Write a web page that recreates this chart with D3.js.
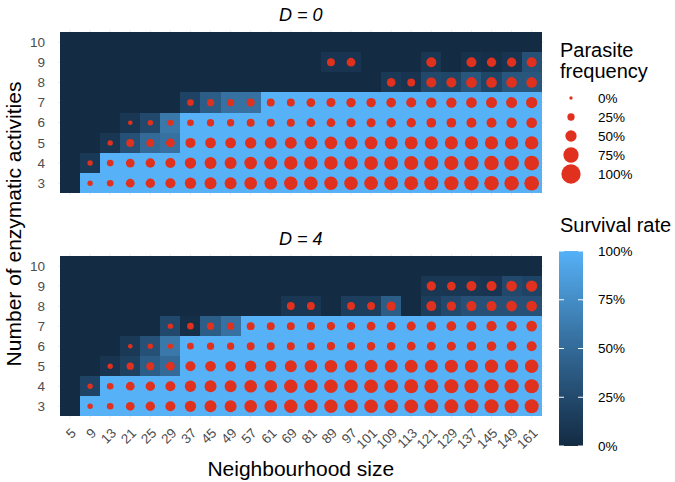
<!DOCTYPE html>
<html>
<head>
<meta charset="utf-8">
<script src="https://cdn.jsdelivr.net/npm/d3@7"></script>
<style>
  body { margin: 0; background: #fff; }
  text { font-family: "Liberation Sans", Arial, sans-serif; }
</style>
</head>
<body>
<svg id="chart" width="675" height="482"></svg>
<script>
// x categories and y categories
var neighbourhood = [5, 9, 13, 21, 25, 29, 37, 45, 49, 57, 61, 69, 81, 89, 97, 101, 109, 113, 121, 129, 137, 145, 149, 161];
var activities = [3, 4, 5, 6, 7, 8, 9, 10];
var panelTitles = ["D = 0", "D = 4"];
var sizeBreaks = [0, 25, 50, 75, 100];
var colorBreaks = [0, 25, 50, 75, 100];

// survival rate (%) - one row per number of activities (3 .. 10)
var survivalD0 = [
  [0,100,100,100,100,100,100,100,100,100,100,100,100,100,100,100,100,100,100,100,100,100,100,100],
  [0,12,100,100,100,100,100,100,100,100,100,100,100,100,100,100,100,100,100,100,100,100,100,100],
  [0,0,10,30,50,55,100,100,100,100,100,100,100,100,100,100,100,100,100,100,100,100,100,100],
  [0,0,0,10,25,60,100,100,100,100,100,100,100,100,100,100,100,100,100,100,100,100,100,100],
  [0,0,0,0,0,0,20,40,55,55,100,100,100,100,100,100,100,100,100,100,100,100,100,100],
  [0,0,0,0,0,0,0,0,0,0,0,0,0,0,0,0,12,8,25,22,35,22,35,35],
  [0,0,0,0,0,0,0,0,0,0,0,0,0,8,8,0,0,0,10,0,6,3,8,30],
  [0,0,0,0,0,0,0,0,0,0,0,0,0,0,0,0,0,0,0,0,0,0,0,0]
];
// parasite frequency (%) - null where no point
var parasiteD0 = [
  [null,13,21,34,38,42,50,54,54,58,58,63,63,63,64,65,66,66,67,68,69,70,70,71],
  [null,13,21,34,38,42,50,54,54,58,60,63,63,64,64,65,66,67,68,68,69,70,71,71],
  [null,null,13,29,29,34,42,46,46,50,54,54,58,58,59,59,60,60,61,61,62,62,63,63],
  [null,null,null,8,13,17,21,25,25,29,29,29,34,34,36,36,38,38,40,40,42,42,44,46],
  [null,null,null,null,null,null,21,25,25,29,29,29,34,36,38,38,40,42,44,44,46,48,48,50],
  [null,null,null,null,null,null,null,null,null,null,null,null,null,null,null,null,34,29,42,42,46,46,46,46],
  [null,null,null,null,null,null,null,null,null,null,null,null,null,29,34,null,null,null,42,null,42,38,38,42],
  [null,null,null,null,null,null,null,null,null,null,null,null,null,null,null,null,null,null,null,null,null,null,null,null]
];

var survivalD4 = [
  [0,100,100,100,100,100,100,100,100,100,100,100,100,100,100,100,100,100,100,100,100,100,100,100],
  [0,20,100,100,100,100,100,100,100,100,100,100,100,100,100,100,100,100,100,100,100,100,100,100],
  [0,0,8,18,40,50,100,100,100,100,100,100,100,100,100,100,100,100,100,100,100,100,100,100],
  [0,0,0,12,30,60,100,100,100,100,100,100,100,100,100,100,100,100,100,100,100,100,100,100],
  [0,0,0,0,0,25,3,40,55,100,100,100,100,100,100,100,100,100,100,100,100,100,100,100],
  [0,0,0,0,0,0,0,0,0,0,0,10,10,0,15,15,40,0,15,25,30,30,30,30],
  [0,0,0,0,0,0,0,0,0,0,0,0,0,0,0,0,0,0,10,10,10,8,25,20],
  [0,0,0,0,0,0,0,0,0,0,0,0,0,0,0,0,0,0,0,0,0,0,0,0]
];
var parasiteD4 = [
  [null,13,21,34,38,42,50,54,54,58,58,63,63,63,64,64,65,65,66,66,67,67,67,67],
  [null,13,21,34,38,42,50,54,54,58,58,63,63,64,64,65,65,66,66,67,67,68,68,68],
  [null,null,13,25,29,34,42,46,46,50,50,54,58,58,58,59,59,60,60,61,61,62,62,63],
  [null,null,null,8,13,13,21,25,25,29,29,29,29,30,31,32,33,34,35,36,38,39,40,42],
  [null,null,null,null,null,13,21,25,25,29,29,29,30,31,32,34,35,36,38,40,41,43,44,46],
  [null,null,null,null,null,null,null,null,null,null,null,29,29,null,29,29,38,null,42,38,42,42,46,46],
  [null,null,null,null,null,null,null,null,null,null,null,null,null,null,null,null,null,null,38,34,42,42,46,50],
  [null,null,null,null,null,null,null,null,null,null,null,null,null,null,null,null,null,null,null,null,null,null,null,null]
];

var svg = d3.select("#chart");

var lowCol = "#132B43", highCol = "#56B1F7", dotCol = "#E0301E";
var fill = d3.scaleLinear().domain([0, 100]).range([lowCol, highCol]).interpolate(d3.interpolateLab);
var radius = d3.scaleLinear().domain([0, 100]).range([1.65, 9.65]);

var x = d3.scaleBand().domain(neighbourhood).range([60, 541.7]).padding(0);

var panels = [
  {title: panelTitles[0], top: 32, bottom: 193.3, surv: survivalD0, para: parasiteD0},
  {title: panelTitles[1], top: 256, bottom: 416.3, surv: survivalD4, para: parasiteD4}
];

panels.forEach(function(p) {
  var y = d3.scaleBand().domain(activities.slice().reverse()).range([p.top, p.bottom]).padding(0);
  var g = svg.append("g");

  // grid peeking out round the tiles
  g.selectAll(".vg").data(neighbourhood).enter().append("line")
    .attr("x1", function(d) { return x(d) + x.bandwidth() / 2; })
    .attr("x2", function(d) { return x(d) + x.bandwidth() / 2; })
    .attr("y1", p.top - 2).attr("y2", p.bottom + 2)
    .attr("stroke", "#EBEBEB").attr("stroke-width", 1);
  g.selectAll(".hg").data(activities).enter().append("line")
    .attr("y1", function(d) { return y(d) + y.bandwidth() / 2; })
    .attr("y2", function(d) { return y(d) + y.bandwidth() / 2; })
    .attr("x1", 58).attr("x2", 543.7)
    .attr("stroke", "#EBEBEB").attr("stroke-width", 1);

  var cells = [];
  activities.forEach(function(a, i) {
    neighbourhood.forEach(function(n, j) {
      cells.push({n: n, a: a, s: p.surv[i][j], f: p.para[i][j]});
    });
  });

  g.selectAll("rect.tile").data(cells).enter().append("rect")
    .attr("class", "tile")
    .attr("x", function(d) { return Math.round(x(d.n)); })
    .attr("y", function(d) { return Math.round(y(d.a)); })
    .attr("width", function(d) { return Math.round(x(d.n) + x.bandwidth()) - Math.round(x(d.n)); })
    .attr("height", function(d) { return Math.round(y(d.a) + y.bandwidth()) - Math.round(y(d.a)); })
    .attr("shape-rendering", "crispEdges")
    .attr("fill", function(d) { return fill(d.s); });

  g.selectAll("circle").data(cells.filter(function(d) { return d.f !== null; })).enter().append("circle")
    .attr("cx", function(d) { return x(d.n) + x.bandwidth() / 2; })
    .attr("cy", function(d) { return y(d.a) + y.bandwidth() / 2; })
    .attr("r", function(d) { return radius(d.f); })
    .attr("fill", dotCol);

  // y axis labels
  g.selectAll("text.ytick").data(activities).enter().append("text")
    .attr("x", 45)
    .attr("y", function(d) { return y(d) + y.bandwidth() / 2; })
    .attr("dy", "0.35em")
    .attr("text-anchor", "end")
    .style("font-size", "13.5px")
    .attr("fill", "#4D4D4D")
    .text(function(d) { return d; });

  // facet title
  g.append("text")
    .attr("x", (60 + 541.7) / 2)
    .attr("y", p.top - 11)
    .attr("text-anchor", "middle")
    .style("font-size", "18px")
    .style("font-style", "italic")
    .text(p.title);
});

// x axis labels (bottom panel only)
svg.selectAll("text.xtick").data(neighbourhood).enter().append("text")
  .attr("transform", function(d) {
    return "translate(" + (x(d) + x.bandwidth() / 2) + ",427) rotate(-45)";
  })
  .attr("dy", "0.72em")
  .attr("text-anchor", "end")
  .style("font-size", "13.5px")
  .attr("fill", "#4D4D4D")
  .text(function(d) { return d; });

// axis titles
svg.append("text")
  .attr("x", 300.8).attr("y", 476)
  .attr("text-anchor", "middle")
  .style("font-size", "21px")
  .text("Neighbourhood size");

svg.append("text")
  .attr("transform", "translate(14,224) rotate(-90)")
  .attr("dy", "0.35em")
  .attr("text-anchor", "middle")
  .style("font-size", "21px")
  .text("Number of enzymatic activities");

// size legend
var leg1 = svg.append("g");
leg1.append("text").attr("x", 560).attr("y", 57).style("font-size", "20px").text("Parasite");
leg1.append("text").attr("x", 560).attr("y", 78).style("font-size", "20px").text("frequency");
leg1.selectAll("circle").data(sizeBreaks).enter().append("circle")
  .attr("cx", 571)
  .attr("cy", function(d, i) { return 98 + i * 19; })
  .attr("r", function(d) { return radius(d); })
  .attr("fill", dotCol);
leg1.selectAll("text.lab").data(sizeBreaks).enter().append("text")
  .attr("x", 598)
  .attr("y", function(d, i) { return 98 + i * 19; })
  .attr("dy", "0.35em")
  .style("font-size", "13.5px")
  .text(function(d) { return d + "%"; });

// colour bar legend
var barY = d3.scaleLinear().domain([0, 100]).range([446, 251]);
var defs = svg.append("defs");
var grad = defs.append("linearGradient").attr("id", "survGrad")
  .attr("x1", 0).attr("y1", 1).attr("x2", 0).attr("y2", 0);
d3.range(0, 101, 10).forEach(function(v) {
  grad.append("stop").attr("offset", v + "%").attr("stop-color", fill(v));
});
var leg2 = svg.append("g");
leg2.append("text").attr("x", 560).attr("y", 232).style("font-size", "20px").text("Survival rate");
leg2.append("rect")
  .attr("x", 559).attr("y", barY(100))
  .attr("width", 24).attr("height", barY(0) - barY(100))
  .attr("fill", "url(#survGrad)");
colorBreaks.forEach(function(v) {
  leg2.append("line").attr("x1", 559).attr("x2", 564)
    .attr("y1", barY(v)).attr("y2", barY(v))
    .attr("stroke", "#fff").attr("stroke-width", 1);
  leg2.append("line").attr("x1", 578).attr("x2", 583)
    .attr("y1", barY(v)).attr("y2", barY(v))
    .attr("stroke", "#fff").attr("stroke-width", 1);
});
leg2.selectAll("text.lab").data(colorBreaks).enter().append("text")
  .attr("x", 598)
  .attr("y", function(d) { return barY(d); })
  .attr("dy", "0.35em")
  .style("font-size", "13.5px")
  .text(function(d) { return d + "%"; });
</script>
</body>
</html>
